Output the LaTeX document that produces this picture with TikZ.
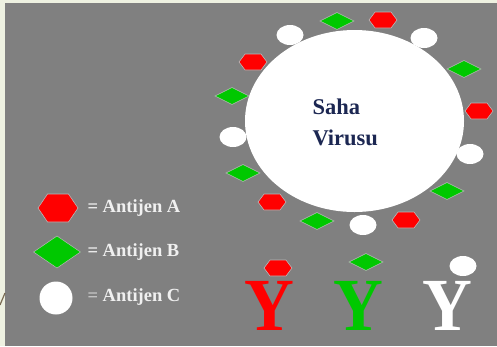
\documentclass[tikz,border=0pt]{standalone}
\usepackage{fontspec}
\setmainfont{Liberation Serif}
\usetikzlibrary{shapes.geometric}
\definecolor{frame}{HTML}{EEF1E1}
\definecolor{panel}{HTML}{808080}
\definecolor{agA}{HTML}{FF0000}
\definecolor{agB}{HTML}{00C800}
\definecolor{navy}{HTML}{1C2752}
\definecolor{rim}{HTML}{B8B8B8}
\begin{document}
\begin{tikzpicture}[x=1pt,y=-1pt,
  hexa/.pic={\fill[agA,draw=rim,line width=0.6pt] (-14,0) -- (-8,-8) -- (8,-8) -- (14,0) -- (8,8) -- (-8,8) -- cycle;},
  bighexa/.pic={\fill[agA,draw=rim,line width=0.6pt] (-20,0) -- (-10.5,-14) -- (10.5,-14) -- (20,0) -- (10.5,14) -- (-10.5,14) -- cycle;},
  dia/.pic={\fill[agB,draw=rim,line width=0.5pt] (-17,0) -- (0,-8.5) -- (17,0) -- (0,8.5) -- cycle;},
  bigdia/.pic={\fill[agB,draw=rim,line width=0.5pt] (-23.5,0) -- (0,-16) -- (23.5,0) -- (0,16) -- cycle;},
  dot/.pic={\fill[white] (0,0) ellipse[x radius=13.5,y radius=10];},
  legend/.style={anchor=west,text=white!94!black,font=\fontsize{18.5}{18.5}\selectfont\bfseries},
  antibody/.style={anchor=base,inner sep=0pt,font=\fontsize{75}{75}\selectfont\bfseries,xscale=0.92}]
\useasboundingbox (0,0) rectangle (497,346);
% page frame and grey panel
\fill[frame] (0,0) rectangle (497,346);
\fill[panel] (5,3) rectangle (497,346);
\draw[draw={rgb,255:red,122;green,108;blue,84},line width=1.2pt] (0,305) -- (5,293);

% virus body
\node[fill=white,ellipse,minimum width=219pt,minimum height=182pt,inner sep=0pt] (virus) at (354.5,121) {};
\node[anchor=west,text=navy,font=\fontsize{22.5}{31}\selectfont\bfseries,align=left] (vname) at (309,122) {Saha\\Virusu};

% surface antigens
\pic (d1) at (337,21) {dia};
\pic (h1) at (383,20) {hexa};
\pic (c1) at (290,35) {dot};
\pic (c2) at (424,38) {dot};
\pic (h2) at (253,62) {hexa};
\pic (d2) at (464,69) {dia};
\pic (d3) at (232,96) {dia};
\pic (h3) at (479,111) {hexa};
\pic (c3) at (233,137) {dot};
\pic (c4) at (470,154) {dot};
\pic (d4) at (243,173) {dia};
\pic (d5) at (447,191) {dia};
\pic (h4) at (272,202) {hexa};
\pic (d6) at (317,221) {dia};
\pic (c5) at (363,225) {dot};
\pic (h5) at (406,220) {hexa};

% legend
\pic (lA) at (58,208) {bighexa};
\pic (lB) at (57,252) {bigdia};
\fill[white] (56,298) circle[radius=16.5];
\node[legend] (tA) at (84,208) {= Antijen A};
\node[legend] (tB) at (84,252) {= Antijen B};
\node[legend] (tC) at (84,297) {\textcolor{white!78!black}{=} Antijen C};

% antibodies with their bound antigens
\node[antibody,text=agA] (yA) at (269,330) {Y};
\node[antibody,text=agB] (yB) at (358,330) {Y};
\node[antibody,text=white] (yC) at (447,330) {Y};
\pic (bA) at (278,268) {hexa};
\pic (bB) at (366,262) {dia};
\pic (bC) at (463,266) {dot};
\end{tikzpicture}
\end{document}
